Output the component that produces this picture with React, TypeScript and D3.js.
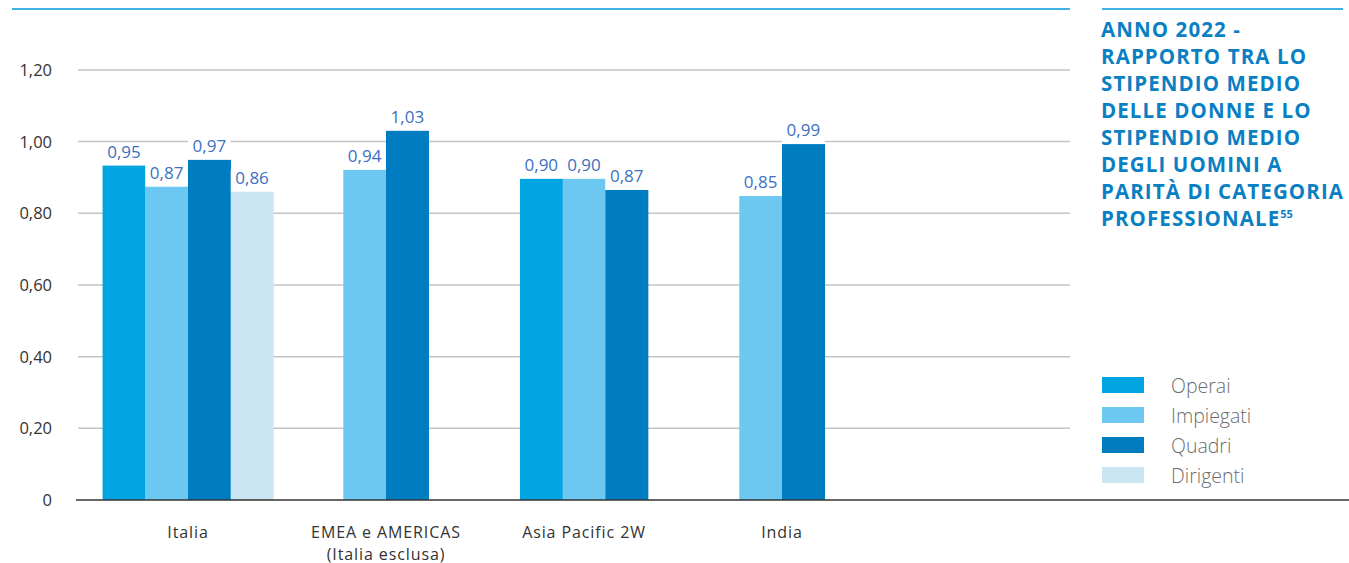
import React from "react";
import * as d3 from "d3";

const categories = ["Italia", "EMEA e AMERICAS|(Italia esclusa)", "Asia Pacific 2W", "India"];
const seriesNames = ["Operai", "Impiegati", "Quadri", "Dirigenti"];
const seriesColors = ["#00a4e1", "#6cc8f1", "#007dc1", "#cae6f3"];

const operaiValues = [0.933, null, 0.896, null];
const impiegatiValues = [0.874, 0.921, 0.896, 0.848];
const quadriValues = [0.949, 1.03, 0.865, 0.993];
const dirigentiValues = [0.86, null, null, null];

const operaiLabels = ["0,95", null, "0,90", null];
const impiegatiLabels = ["0,87", "0,94", "0,90", "0,85"];
const quadriLabels = ["0,97", "1,03", "0,87", "0,99"];
const dirigentiLabels = ["0,86", null, null, null];

const yTicks = [0, 0.2, 0.4, 0.6, 0.8, 1.0, 1.2];
const yTickLabels = ["0", "0,20", "0,40", "0,60", "0,80", "1,00", "1,20"];

const titleLines = [
  "ANNO 2022 -",
  "RAPPORTO TRA LO",
  "STIPENDIO MEDIO",
  "DELLE DONNE E LO",
  "STIPENDIO MEDIO",
  "DEGLI UOMINI A",
  "PARITÀ DI CATEGORIA",
  "PROFESSIONALE",
];
const titleSup = "55";

const allValues = [operaiValues, impiegatiValues, quadriValues, dirigentiValues];
const allLabels = [operaiLabels, impiegatiLabels, quadriLabels, dirigentiLabels];

const FONT = "'Open Sans', Lato, sans-serif";

export default function App() {
  const W = 1349;
  const H = 563;
  const y = d3.scaleLinear().domain([0, 1.2]).range([500, 69.9]);
  const x = d3.scaleBand<string>().domain(categories).range([89, 881]).padding(0);
  const barW = 42.7;

  const bars: any[] = [];
  categories.forEach((cat, ci) => {
    const present = seriesNames
      .map((s, si) => ({ si, v: allValues[si][ci], label: allLabels[si][ci] }))
      .filter((d) => d.v !== null);
    const center = (x(cat) as number) + x.bandwidth() / 2;
    const start = center - (present.length * barW) / 2;
    present.forEach((d, k) => {
      bars.push({ key: `${ci}-${d.si}`, x: start + k * barW, v: d.v as number, label: d.label, color: seriesColors[d.si] });
    });
  });

  return (
    <svg width={W} height={H} style={{ position: "absolute", left: 0, top: 0, background: "#fff" }} fontFamily={FONT}>
      {/* top blue lines */}
      <line x1={12} x2={1070} y1={9} y2={9} stroke="#3fb2e4" strokeWidth={2} />
      <line x1={1102} x2={1343} y1={9} y2={9} stroke="#3fb2e4" strokeWidth={2} />

      {/* gridlines */}
      {yTicks.filter((t) => t > 0).map((t) => (
        <line key={t} x1={78} x2={1070} y1={y(t)} y2={y(t)} stroke="#c4c4c4" strokeWidth={1.5} />
      ))}
      {/* y tick labels */}
      {yTicks.map((t, i) => (
        <text key={"yl" + t} x={52} y={y(t) + 6} textAnchor="end" fontSize={16.5} fill="#333">
          {yTickLabels[i]}
        </text>
      ))}

      {/* bars */}
      {bars.map((b) => (
        <g key={b.key}>
          <rect x={b.x} y={y(b.v) - 22} width={barW} height={22} fill="#fff" />
          <rect x={b.x} y={y(b.v)} width={barW + 0.3} height={500 - y(b.v)} fill={b.color} />
          <text x={b.x + barW / 2} y={y(b.v) - 8} textAnchor="middle" fontSize={17} fill="#3d70c0">
            {b.label}
          </text>
        </g>
      ))}

      {/* baseline */}
      <line x1={76} x2={1349} y1={500} y2={500} stroke="#333" strokeWidth={1.5} />

      {/* x labels */}
      {categories.map((cat) => {
        const cx = (x(cat) as number) + x.bandwidth() / 2;
        return cat.split("|").map((ln, li) => (
          <text key={cat + li} x={cx} y={537.5 + li * 22} textAnchor="middle" fontSize={16} letterSpacing={0.9} fill="#333">
            {ln}
          </text>
        ));
      })}

      {/* title */}
      {titleLines.map((ln, i) => (
        <text key={"t" + i} x={1101} y={36.7 + i * 27} fontSize={20.5} fontWeight={700} letterSpacing={1.1} fill="#0a7fc3">
          {ln}
          {i === titleLines.length - 1 ? (
            <tspan fontSize={11} dy={-8} letterSpacing={0}>{titleSup}</tspan>
          ) : null}
        </text>
      ))}

      {/* legend */}
      {seriesNames.map((s, i) => (
        <g key={"lg" + s}>
          <rect x={1102} y={377 + i * 30} width={42} height={16} fill={seriesColors[i]} />
          <text x={1171} y={392.5 + i * 30} fontSize={19.5} fill="#6d6d6d" fontWeight={300}>
            {s}
          </text>
        </g>
      ))}
    </svg>
  );
}
